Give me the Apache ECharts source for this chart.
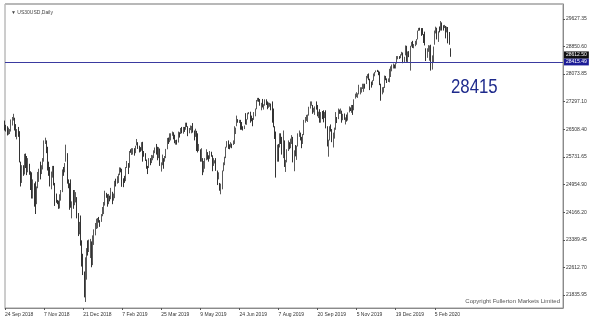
<!DOCTYPE html>
<html><head><meta charset="utf-8">
<script src="https://cdn.jsdelivr.net/npm/echarts@6/dist/echarts.min.js"></script>
<style>html,body{margin:0;padding:0;background:#fff}#c{width:600px;height:329px}</style>
</head><body><div id="c"></div>
<script>
const chartTitle = '\u25BC US30USD,Daily';
const copyrightText = 'Copyright Fullerton Markets Limited';
const yTickValues = [29627.35, 28850.60, 28073.85, 27297.10, 26508.40, 25731.65, 24954.90, 24166.20, 23389.45, 22612.70, 21835.95];
const xTickLabels = ['24 Sep 2018', '7 Nov 2018', '21 Dec 2018', '7 Feb 2019', '25 Mar 2019', '9 May 2019', '24 Jun 2019', '7 Aug 2019', '20 Sep 2019', '5 Nov 2019', '19 Dec 2019', '5 Feb 2020'];
const bidPrice = 28612.50;
const levelPrice = 28415.49;
const levelText = '28415';
const closedDays = ['2018-12-25', '2019-01-01', '2019-04-19', '2019-12-25', '2020-01-01'];
const futureSlots = 92;
// daily bars: [open, close, low, high], 24 Sep 2018 .. 24 Feb 2020
const ohlc = [
[26700,26562,26480,26760],[26562,26492,26450,26640],[26492,26385,26340,26600],[26385,26440,26360,26560],[26440,26458,26380,26520],
[26458,26651,26450,26790],[26651,26774,26620,26860],[26774,26828,26760,26951],[26828,26628,26480,26840],[26628,26447,26300,26660],
[26447,26487,26230,26520],[26487,26431,26300,26580],[26431,25599,25580,26460],[25599,25053,24900,25600],[25053,25340,25000,25500],
[25340,25250,25200,25500],[25250,25798,25240,25820],[25798,25706,25420,25830],[25706,25380,25220,25760],[25380,25444,25300,25700],
[25444,25317,25230,25540],[25317,25191,24800,25330],[25191,24583,24560,25300],[24583,24984,24560,25100],[24984,24689,24330,24990],
[24689,24443,24123,25040],[24443,24875,24400,24900],[24875,25116,24850,25310],
[25116,25380,25030,25400],[25380,25271,25100,25600],[25271,25462,25250,25500],[25462,25636,25380,25700],[25636,26181,25600,26200],
[26181,26191,26100,26277],[26191,25989,25840,26200],[25989,25387,25350,26020],[25387,25286,25200,25600],[25286,25081,24900,25450],
[25081,25290,24820,25320],[25290,25413,25150,25480],[25413,25018,24930,25480],[25018,24466,24350,25000],[24466,24465,24440,24700],
[24465,24460,24400,24520],[24460,24286,24268,24500],[24286,24640,24280,24680],[24640,24749,24500,24800],[24749,25366,24740,25380],
[25366,25339,25200,25450],[25339,25538,25300,25560],
[25650,25826,25600,26080],[25826,25027,24980,25840],[25027,24950,24850,25100],[24950,24947,24242,24990],[24947,24389,24300,25100],
[24389,24423,24000,24480],[24423,24370,24270,24800],[24370,24527,24370,24800],[24527,24597,24450,24740],[24597,24100,24000,24600],
[24100,23592,23500,24150],[23592,23675,23550,23900],[23675,23323,23230,24080],[23323,22859,22640,23380],[22859,22445,22400,23000],
[22445,21792,21770,22500],[21792,22878,21640,22900],[22878,23138,22270,23160],[23138,23062,22950,23380],[23062,23327,23050,23400],
[23327,23346,22880,23420],[23346,22686,22620,23350],[22686,23433,22680,23520],[23433,23531,23250,23690],[23531,23787,23520,23870],
[23787,23879,23700,23990],[23879,24001,23720,24010],[24001,23996,23880,24040],[23996,23909,23760,23950],[23909,24065,23900,24120],
[24065,24207,24060,24320],[24207,24370,24120,24460],[24370,24706,24360,24780],[24706,24650,24580,24720],[24650,24404,24330,24680],
[24404,24575,24400,24690],[24575,24553,24480,24640],[24553,24737,24540,24860],[24737,24528,24400,24750],[24528,24579,24500,24700],
[24579,25014,24570,25060],[25014,24999,24900,25120],
[24999,25063,24980,25190],[25063,25239,25000,25260],[25239,25411,25220,25440],[25411,25390,25300,25430],[25390,25169,24890,25400],
[25169,25106,24880,25130],[25106,25053,25000,25200],[25053,25425,25050,25450],[25425,25543,25420,25620],[25543,25439,25250,25560],
[25439,25883,25430,25900],[25883,25880,25850,25950],[25880,25891,25790,25980],[25891,25954,25800,25980],[25954,25850,25770,25980],
[25850,26031,25840,26050],[26031,26091,26060,26240],[26091,26057,25960,26150],[26057,25985,25860,26050],[25985,25916,25880,26010],
[25916,26026,25910,26150],[26026,25819,25600,26160],[25819,25806,25740,25900],[25806,25673,25620,25840],[25673,25473,25400,25660],
[25473,25450,25250,25480],[25450,25650,25420,25700],[25650,25554,25500,25700],[25554,25702,25560,25790],[25702,25709,25640,25780],
[25709,25849,25700,25920],[25849,25914,25840,26000],[25914,25887,25800,26100],[25887,25745,25640,26020],[25745,25962,25700,26010],
[25962,25502,25480,25970],[25502,25516,25320,25580],[25516,25657,25500,25800],[25657,25626,25400,25700],[25626,25718,25600,25760],
[25718,25929,25700,25960],
[25929,26258,25950,26270],[26258,26179,26100,26280],[26179,26218,26150,26400],[26218,26384,26200,26400],[26384,26425,26330,26450],
[26425,26341,26230,26430],[26341,26150,26120,26360],[26150,26157,26080,26210],[26157,26143,26080,26220],[26143,26412,26140,26450],
[26412,26384,26280,26430],[26384,26452,26380,26550],[26452,26449,26400,26580],[26449,26559,26390,26580],
[26559,26511,26440,26580],[26511,26656,26500,26700],[26656,26597,26580,26700],[26597,26462,26320,26600],[26462,26543,26400,26550],
[26543,26554,26490,26620],[26554,26593,26400,26610],
[26593,26430,26420,26690],[26430,26307,26200,26480],[26307,26505,26300,26530],[26505,26438,25900,26470],[26438,25965,25860,26400],
[25965,25968,25900,26100],[25968,25828,25600,25950],[25828,25942,25600,25980],[25942,25324,25220,25700],[25324,25532,25300,25620],
[25532,25648,25400,25700],[25648,25863,25640,25950],[25863,25764,25660,25870],[25764,25680,25600,25780],[25680,25877,25680,25900],
[25877,25776,25740,25880],[25776,25490,25330,25780],[25490,25586,25480,25700],[25586,25590,25550,25640],[25590,25347,25340,25700],
[25347,25126,24940,25350],[25126,25169,25100,25300],[25169,24815,24780,25000],
[24815,24820,24680,24980],[24820,25332,24820,25350],[25332,25539,25330,25580],[25539,25720,25500,25740],[25720,25984,25700,26020],
[25984,26062,26000,26180],[26062,26048,25960,26200],[26048,26005,25950,26090],[26005,26107,26000,26150],[26107,26090,25980,26110],
[26090,26112,26070,26200],[26112,26465,26100,26600],[26465,26504,26380,26560],[26504,26753,26600,26900],[26753,26719,26700,26800],
[26719,26727,26690,26780],[26727,26548,26500,26780],[26548,26536,26500,26720],[26536,26526,26480,26600],[26526,26600,26520,26620],
[26800,26717,26650,26970],[26717,26787,26640,26800],[26787,26966,26790,26980],[26966,26970,26940,27000],[26970,26922,26700,27010],
[26922,26806,26740,26900],[26806,26784,26600,26830],[26784,26860,26780,27000],[26860,27088,26880,27100],[27088,27332,27080,27340],
[27332,27359,27300,27400],[27359,27336,27290,27400],[27336,27220,27180,27370],[27220,27223,27050,27260],[27223,27154,27130,27370],
[27154,27172,27070,27220],[27172,27350,27180,27360],[27350,27270,27200,27360],[27270,27141,27080,27300],[27141,27192,27120,27270],
[27192,27222,27150,27260],[27222,27199,27050,27240],[27199,26865,26700,27300],
[26865,26583,26570,27100],[26583,26485,26240,26600],[26485,25718,25150,26450],[25718,26030,25600,26080],[26030,26008,25600,26100],
[26008,26378,26000,26400],[26378,26287,26100,26400],[26287,25897,25800,26300],[25897,26280,25700,26480],[26280,25480,25450,26200],
[25480,25579,25310,25650],[25579,25886,25580,25950],[25886,26136,25900,26200],[26136,25963,25950,26150],[25963,26203,25980,26250],
[26203,26253,26100,26350],[26253,25629,25580,26300],[25629,25899,25330,25920],[25899,25778,25750,26070],[25778,26036,25650,26050],
[26036,26363,26030,26400],[26363,26403,26300,26480],
[26403,26300,26200,26420],[26300,26118,25980,26300],[26118,26356,26100,26380],[26356,26728,26350,26780],[26728,26797,26700,26860],
[26797,26836,26750,26920],[26836,26910,26720,26930],[26910,27137,26900,27150],[27137,27182,27100,27300],[27182,27220,27180,27300],
[27220,27076,26950,27200],[27076,27111,26990,27120],[27111,27147,26920,27160],[27147,27095,27070,27300],[27095,26935,26880,27200],
[26935,26950,26830,27010],[26950,26808,26700,27080],[26808,26970,26700,27000],[26970,26891,26800,27030],[26891,26820,26710,27050],
[26820,26917,26830,27000],
[26917,26573,26540,27050],[26573,26079,26030,26600],[26079,26202,25740,26220],[26202,26573,26200,26600],[26573,26478,26450,26650],
[26478,26164,26150,26520],[26164,26347,26000,26420],[26347,26497,26250,26560],[26497,26817,26500,27000],[26817,26787,26690,26860],
[26787,27025,26800,27100],[27025,27001,26950,27070],[27001,27026,26950,27100],[27026,26770,26700,27040],[26770,26828,26770,26950],
[26828,26788,26780,26960],[26788,26834,26650,26850],[26834,26806,26730,26930],[26806,26958,26760,26990],[26958,27091,26990,27160],
[27091,27071,27030,27130],[27071,27186,26980,27200],[27186,27046,26920,27200],
[27046,27347,27050,27360],[27347,27462,27380,27520],[27462,27492,27420,27560],[27492,27493,27400,27530],[27493,27675,27500,27770],
[27675,27681,27500,27700],[27681,27691,27550,27700],[27691,27691,27650,27800],[27691,27784,27570,27800],[27784,27782,27660,27800],
[27782,28005,27790,28020],[28005,28036,27950,28070],[28036,27934,27900,28090],[27934,27821,27620,27940],[27821,27767,27690,27860],
[27767,27876,27760,27900],[27876,28066,27880,28090],[28066,28122,28010,28130],[28122,28164,28120,28175],[28164,28160,28130,28190],
[28160,28051,28040,28170],
[28051,27783,27760,28140],[27783,27503,27320,27800],[27503,27650,27500,27700],[27650,27678,27550,27710],[27678,28015,27680,28030],
[28015,27909,27900,28020],[27909,27882,27820,27950],[27882,27911,27850,27950],[27911,28132,27840,28220],[28132,28135,27990,28290],
[28135,28235,28150,28340],[28235,28268,28230,28370],[28268,28240,28230,28340],[28240,28377,28230,28380],[28377,28455,28370,28580],
[28455,28551,28490,28580],[28551,28515,28500,28580],[28515,28621,28520,28630],[28621,28645,28600,28700],[28645,28462,28380,28680],
[28462,28538,28410,28560],
[28538,28869,28600,28880],[28869,28634,28420,28870],[28634,28703,28400,28710],[28703,28583,28550,28720],[28583,28745,28170,28870],
[28745,28956,28850,28980],[28956,28824,28810,29010],[28824,28907,28800,28920],[28907,28940,28860,29010],[28940,29030,28900,29060],
[29030,29298,29050,29300],[29298,29348,29290,29375],[29348,29340,29300,29380],[29340,29196,29150,29370],[29196,29186,29180,29370],
[29186,29160,28950,29200],[29160,28990,28880,29270],[28990,28535,28440,28800],[28535,28723,28530,28800],[28723,28734,28700,28890],
[28734,28860,28450,28880],[28860,28256,28170,28900],
[28256,28399,28200,28600],[28399,28808,28400,28850],[28808,29291,28900,29300],[29291,29380,29220,29410],[29380,29103,29050,29380],
[29103,29277,28980,29280],[29277,29276,29250,29415],[29276,29551,29300,29570],[29551,29424,29300,29530],[29424,29398,29300,29450],
[29398,29420,29370,29460],[29420,29232,29080,29430],[29232,29348,29250,29410],[29348,29219,28940,29400],[29219,28992,28900,29260],
[28780,28612,28560,28800]
];

const monthNames = ['Jan','Feb','Mar','Apr','May','Jun','Jul','Aug','Sep','Oct','Nov','Dec'];
const categories = [];
let t = Date.UTC(2018, 8, 24);
while (categories.length < ohlc.length) {
  const d = new Date(t);
  const wd = d.getUTCDay();
  const iso = d.toISOString().slice(0, 10);
  if (wd !== 0 && wd !== 6 && !closedDays.includes(iso)) {
    categories.push(d.getUTCDate() + ' ' + monthNames[d.getUTCMonth()] + ' ' + d.getUTCFullYear());
  }
  t += 86400000;
}
for (let i = 0; i < futureSlots; i++) categories.push('');

const chart = echarts.init(document.getElementById('c'), null, {renderer: 'canvas'});
chart.setOption({
  animation: false,
  backgroundColor: '#fff',
  textStyle: {fontFamily: 'Liberation Sans'},
  grid: {left: 5, right: 37, top: 4, bottom: 21, show: true, borderColor: '#9a9a9a', borderWidth: 1},
  title: {text: chartTitle, left: 6, top: 5, textStyle: {fontSize: 5, fontWeight: 'normal', color: '#444'}},
  xAxis: {
    type: 'category', data: categories, boundaryGap: false,
    axisLine: {lineStyle: {color: '#8a8a8a'}},
    axisTick: {show: true, interval: (i) => xTickLabels.includes(categories[i]), length: 2, lineStyle: {color: '#555'}},
    axisLabel: {interval: (i) => xTickLabels.includes(categories[i]), align: 'left', fontSize: 5, color: '#333', margin: 4},
    splitLine: {show: false}
  },
  yAxis: {
    type: 'value', position: 'right', min: 21470, max: 30050, scale: true,
    axisLine: {show: true, lineStyle: {color: '#8a8a8a'}},
    axisTick: {show: true, customValues: yTickValues, length: 2, lineStyle: {color: '#555'}},
    axisLabel: {customValues: yTickValues, formatter: (v) => v.toFixed(2), fontSize: 5, color: '#333', margin: 3},
    splitLine: {show: false}
  },
  series: [{
    type: 'candlestick', data: ohlc, barWidth: 1,
    itemStyle: {color: '#5a5a5a', color0: '#333', borderColor: '#5a5a5a', borderColor0: '#333', borderWidth: 1},
    markLine: {
      silent: true, symbol: 'none', animation: false,
      data: [
        {yAxis: levelPrice, lineStyle: {color: '#3a3aa0', width: 1, type: 'solid'},
         label: {show: true, position: 'end', distance: 1, formatter: levelPrice.toFixed(2), backgroundColor: '#1c1c96', color: '#fff', fontSize: 5, padding: [1, 2]}},
        {yAxis: bidPrice, lineStyle: {color: 'rgba(0,0,0,0)', width: 0},
         label: {show: true, position: 'end', distance: 1, formatter: bidPrice.toFixed(2), backgroundColor: '#111', color: '#fff', fontSize: 5, padding: [1, 2]}}
      ]
    }
  }],
  graphic: [
    {type: 'line', shape: {x1: 5, y1: 4, x2: 563, y2: 4}, style: {stroke: '#b8b8b8', lineWidth: 2}},
    {type: 'text', x: 451, y: 77, scaleX: 0.8, style: {text: levelText, fontSize: 21, fontFamily: 'Liberation Sans', fill: '#1e2a8c'}},
    {type: 'text', right: 40, top: 298, style: {text: copyrightText, fontSize: 6, fontFamily: 'Liberation Sans', fill: '#555'}}
  ]
});
</script></body></html>
